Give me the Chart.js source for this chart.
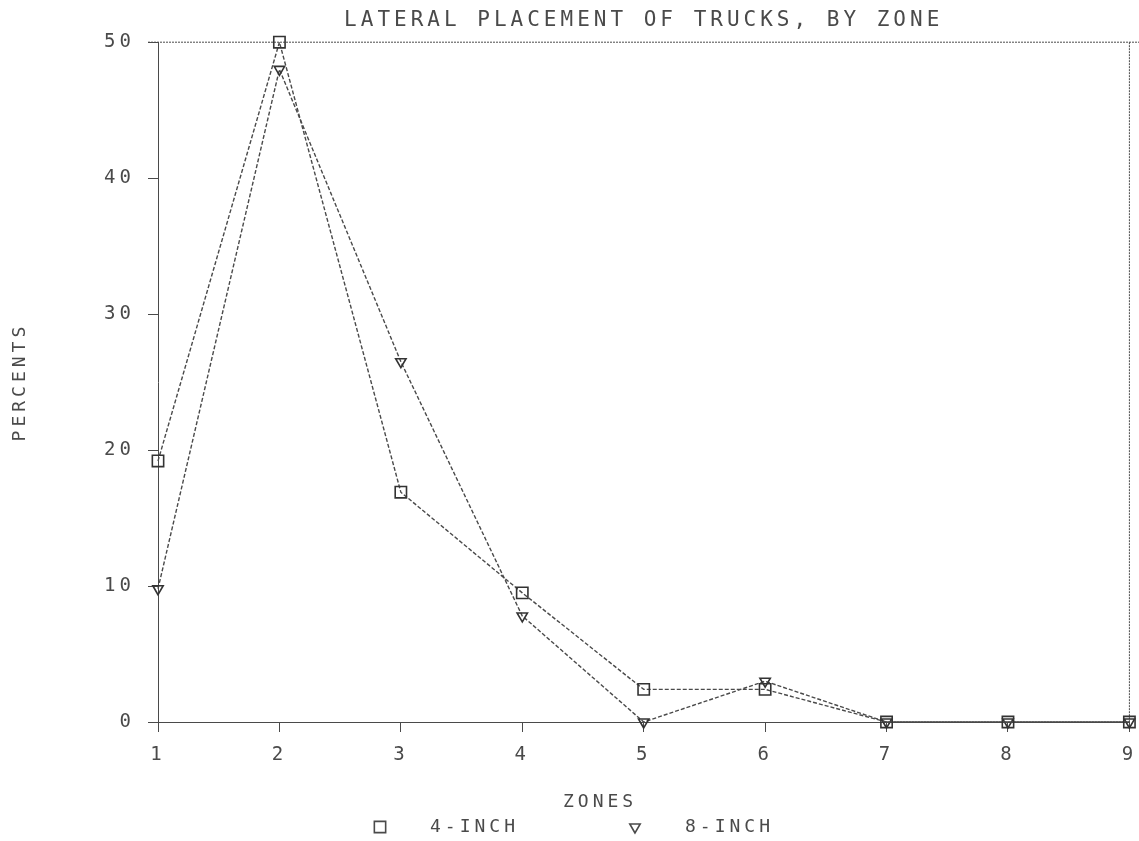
<!DOCTYPE html>
<html>
<head>
<meta charset="utf-8">
<title>Lateral placement of trucks, by zone</title>
<script src="https://cdn.jsdelivr.net/npm/chart.js@4.4.1/dist/chart.umd.min.js"></script>
<style>
  html, body { margin: 0; padding: 0; background: #fff; }
  #wrap { width: 1139px; height: 841px; }
</style>
</head>
<body>
<div id="wrap"><canvas id="zoneChart"></canvas></div>
<script>
// --- data ---
const zones = ['1', '2', '3', '4', '5', '6', '7', '8', '9'];
const fourInch = [19.2, 50, 16.9, 9.5, 2.4, 2.4, 0, 0, 0];
const eightInch = [9.8, 48, 26.5, 7.8, 0, 3, 0, 0, 0];
const yTicks = [0, 10, 20, 30, 40, 50];
const xTitle = 'ZONES';

const INK = '#4a4a4a';
const FONT = 'DejaVu Sans Mono';

// dot-matrix lettering is wide, so space the letters out
const spacing = {
    id: 'spacing',
    beforeLayout(chart) { chart.ctx.letterSpacing = '4px'; },
    beforeDraw(chart) { chart.ctx.letterSpacing = '4px'; }
};

// top and right edges of the plot frame
const frame = {
    id: 'frame',
    beforeDatasetsDraw(chart) {
        const { ctx, chartArea: a } = chart;
        ctx.save();
        ctx.strokeStyle = INK;
        ctx.lineWidth = 1;
        ctx.setLineDash([2, 1]);
        ctx.beginPath();
        ctx.moveTo(a.left - 10, a.top);
        ctx.lineTo(chart.width, a.top);
        ctx.moveTo(a.right, a.top);
        ctx.lineTo(a.right, a.bottom);
        ctx.stroke();
        ctx.restore();
    }
};

// x title and legend line under it: symbol, gap, label
const bottomLegend = {
    id: 'bottomLegend',
    afterDraw(chart) {
        const ctx = chart.ctx;
        const y = chart.height - 14;
        const starts = [380, 635];
        ctx.save();
        ctx.font = '18px ' + FONT;
        ctx.fillStyle = INK;
        ctx.textBaseline = 'middle';
        ctx.fillText(xTitle, 563, 802);
        chart.data.datasets.forEach((ds, i) => {
            const x = starts[i];
            ctx.save();
            ctx.fillStyle = 'rgba(0,0,0,0)';
            ctx.strokeStyle = INK;
            Chart.helpers.drawPoint(ctx, {
                pointStyle: ds.pointStyle,
                radius: ds.pointRadius,
                rotation: ds.pointRotation || 0,
                borderWidth: 1.3
            }, x, y);
            ctx.restore();
            ctx.fillText(ds.label, x + 50, y);
        });
        ctx.restore();
    }
};

new Chart(document.getElementById('zoneChart'), {
    type: 'line',
    data: {
        labels: zones,
        datasets: [
            {
                label: '4-INCH',
                data: fourInch,
                borderColor: INK,
                borderWidth: 1.4,
                borderDash: [4, 2],
                pointStyle: 'rect',
                pointRadius: 8,
                pointBorderWidth: 1.6,
                pointBorderColor: '#333',
                pointBackgroundColor: 'rgba(0,0,0,0)',
                tension: 0,
                clip: false
            },
            {
                label: '8-INCH',
                data: eightInch,
                borderColor: INK,
                borderWidth: 1.4,
                borderDash: [4, 2],
                pointStyle: 'triangle',
                pointRotation: 180,
                pointRadius: 6,
                pointBorderWidth: 1.6,
                pointBorderColor: '#333',
                pointBackgroundColor: 'rgba(0,0,0,0)',
                tension: 0,
                clip: false
            }
        ]
    },
    options: {
        responsive: true,
        maintainAspectRatio: false,
        animation: false,
        layout: { padding: { top: 3, right: 9, bottom: 19, left: 0 } },
        plugins: {
            legend: { display: false },
            tooltip: { enabled: false },
            title: {
                display: true,
                text: 'LATERAL PLACEMENT OF TRUCKS, BY ZONE',
                fullSize: false,
                color: INK,
                font: { family: FONT, size: 21, weight: 'normal' },
                padding: { top: 5, bottom: 9 }
            }
        },
        scales: {
            x: {
                offset: false,
                grid: { drawOnChartArea: false, drawTicks: true, tickLength: 10, color: INK },
                border: { display: true, color: INK, width: 1 },
                ticks: {
                    color: INK,
                    padding: 12,
                    font: { family: FONT, size: 19 },
                    maxRotation: 0
                },
                afterFit(scale) {
                    scale.height = 100;
                    scale.paddingLeft = 0;
                    scale.paddingRight = 0;
                }
            },
            y: {
                min: 0,
                max: 50,
                afterBuildTicks(scale) { scale.ticks = yTicks.map(v => ({ value: v })); },
                grid: { drawOnChartArea: false, drawTicks: true, tickLength: 10, color: INK },
                border: { display: true, color: INK, width: 1 },
                ticks: {
                    color: INK,
                    padding: 13,
                    font: { family: FONT, size: 19 }
                },
                title: {
                    display: true,
                    text: 'PERCENTS',
                    color: INK,
                    font: { family: FONT, size: 18 },
                    padding: { top: 10, bottom: 10 }
                },
                afterFit(scale) { scale.width = 158; }
            }
        }
    },
    plugins: [spacing, frame, bottomLegend]
});
</script>
</body>
</html>
